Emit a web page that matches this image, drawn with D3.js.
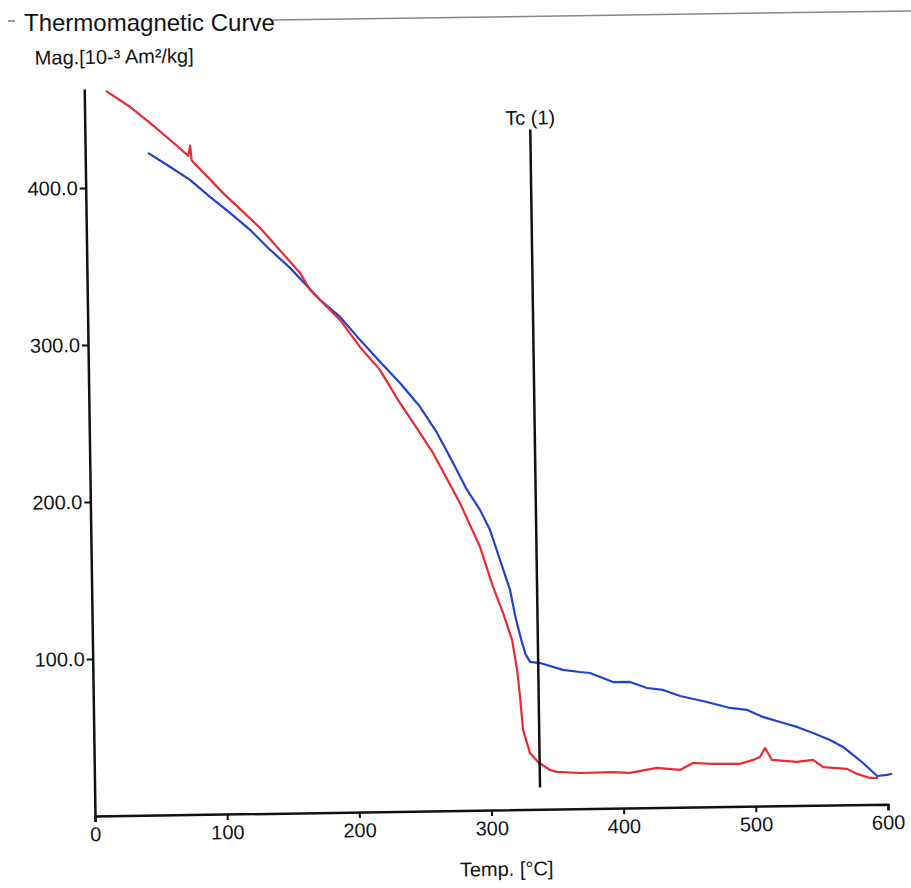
<!DOCTYPE html>
<html>
<head>
<meta charset="utf-8">
<script src="https://cdn.jsdelivr.net/npm/d3@7"></script>
<style>
  body { margin: 0; background: #fff; }
  svg { display: block; font-family: "Liberation Sans", Arial, sans-serif; }
</style>
</head>
<body>
<svg id="chart"></svg>
<script>
// tick values
const xTicks = [0, 100, 200, 300, 400, 500, 600];
const yTicks = [100, 200, 300, 400];

// red run (temperature, magnetisation)
const tempRed = [16.4, 34.4, 49.4, 64.3, 78.0, 79.5, 80.5, 105.3, 131.4, 161.2, 168.6, 190.9, 205.7, 220.6,
  233.9, 248.7, 259.8, 279.6, 294.3, 303.7, 311.0, 317.5, 321.0, 322.9, 324.8, 329.8, 335.8, 344.8, 350.0,
  367.4, 392.4, 405.2, 425.7, 443.1, 453.0, 468.2, 488.6, 498.5, 503.8, 507.7, 512.8, 531.7, 543.9, 551.4,
  569.5, 577.0, 586.8, 592.8];
const magRed = [461.7, 451.3, 440.9, 429.9, 419.5, 426.0, 416.5, 394.3, 373.0, 343.9, 333.0, 313.6, 296.2, 281.4,
  262.1, 242.8, 228.0, 195.9, 167.7, 142.1, 125.5, 108.2, 89.0, 71.8, 50.8, 36.0, 30.2, 25.0, 23.7,
  22.8, 23.1, 22.4, 25.3, 23.8, 28.1, 27.3, 27.1, 29.5, 31.3, 37.0, 29.3, 27.8, 28.9, 24.3,
  22.9, 19.6, 16.9, 16.8];

// blue run
const tempBlue = [47.5, 64.0, 79.0, 94.0, 108.9, 123.9, 137.2, 153.7, 176.0, 191.0, 205.8, 220.7, 235.6, 250.5,
  263.1, 274.8, 285.1, 294.7, 302.0, 309.3, 316.5, 320.5, 324.5, 327.5, 330.9, 338.4, 355.7, 368.5, 376.1,
  393.4, 406.3, 419.1, 431.2, 444.0, 464.3, 481.7, 494.5, 506.5, 519.3, 532.1, 544.2, 556.9, 566.7, 574.2,
  581.7, 592.1, 599.7, 603.5];
const magBlue = [421.8, 412.7, 404.2, 393.2, 382.8, 371.8, 360.2, 347.2, 326.6, 315.5, 300.7, 286.5, 272.9, 257.5,
  240.7, 221.5, 204.1, 191.3, 178.5, 159.2, 140.1, 122.0, 108.0, 99.0, 94.0, 93.2, 88.6, 87.1, 86.4,
  80.4, 80.3, 76.3, 74.9, 70.9, 66.8, 62.8, 61.4, 56.8, 53.4, 50.1, 46.1, 41.5, 36.9, 31.7,
  26.5, 18.1, 18.7, 19.4];

// Curie temperature marker
const tcTemp = 337;
const tcSpan = [14, 433];

const W = 911, H = 888;
const margin = { left: 95, top: 89 };
const w = 793, h = 727;

const svg = d3.select("#chart").attr("width", W).attr("height", H);
svg.append("rect").attr("width", W).attr("height", H).attr("fill", "#fff");

// group box header
svg.append("line")
  .attr("x1", 8).attr("y1", 21).attr("x2", 15).attr("y2", 21)
  .attr("stroke", "#777").attr("stroke-width", 1.5);
svg.append("text")
  .attr("x", 24).attr("y", 31)
  .attr("font-size", 24)
  .attr("fill", "#111")
  .text("Thermomagnetic Curve");
svg.append("line")
  .attr("x1", 273).attr("y1", 20).attr("x2", 911).attr("y2", 11)
  .attr("stroke", "#888").attr("stroke-width", 1.5);

// the scan is tilted slightly
const g = svg.append("g")
  .attr("transform", `rotate(-0.85, 95, 816) translate(${margin.left},${margin.top})`);

const x = d3.scaleLinear().domain([0, 600]).range([0, w]);
const y = d3.scaleLinear().domain([0, 463]).range([h, 0]);

const xAxis = g.append("g")
  .attr("transform", `translate(0,${h})`)
  .call(d3.axisBottom(x).tickValues(xTicks).tickSize(6).tickPadding(5));

const yAxis = g.append("g")
  .call(d3.axisLeft(y).tickValues(yTicks).tickFormat(d3.format(".1f"))
    .tickSize(6).tickSizeOuter(0).tickPadding(2));

[xAxis, yAxis].forEach(a => {
  a.attr("font-size", 20).attr("font-family", "Liberation Sans, Arial, sans-serif");
  a.select(".domain").attr("stroke", "#111").attr("stroke-width", 2.5);
  a.selectAll(".tick line").attr("stroke", "#111").attr("stroke-width", 2);
  a.selectAll(".tick text").attr("fill", "#111");
});

const line = d3.line().x(d => x(d[0])).y(d => y(d[1]));

g.append("path")
  .datum(d3.zip(tempBlue, magBlue))
  .attr("fill", "none")
  .attr("stroke", "#2242cc")
  .attr("stroke-width", 2.2)
  .attr("stroke-linejoin", "round")
  .attr("d", line);

g.append("path")
  .datum(d3.zip(tempRed, magRed))
  .attr("fill", "none")
  .attr("stroke", "#ea2a30")
  .attr("stroke-width", 2.2)
  .attr("stroke-linejoin", "round")
  .attr("d", line);

// Tc marker
g.append("line")
  .attr("x1", x(tcTemp)).attr("x2", x(tcTemp))
  .attr("y1", y(tcSpan[1])).attr("y2", y(tcSpan[0]))
  .attr("stroke", "#111").attr("stroke-width", 2.5);

g.append("text")
  .attr("x", x(tcTemp)).attr("y", y(tcSpan[1]) - 5)
  .attr("text-anchor", "middle")
  .attr("font-size", 20)
  .attr("fill", "#111")
  .text("Tc (1)");

// axis titles
g.append("text")
  .attr("x", -49).attr("y", -25)
  .attr("font-size", 20)
  .attr("fill", "#111")
  .text("Mag.[10-³ Am²/kg]");

g.append("text")
  .attr("x", 364).attr("y", 793)
  .attr("font-size", 20)
  .attr("fill", "#111")
  .text("Temp. [°C]");
</script>
</body>
</html>
